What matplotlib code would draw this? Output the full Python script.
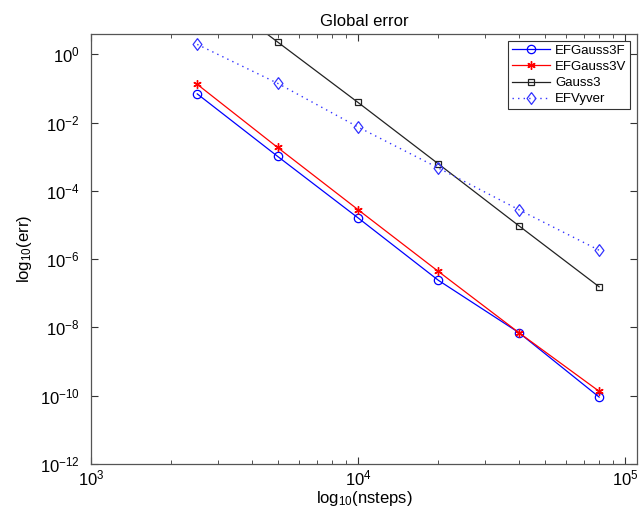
import math
import matplotlib
matplotlib.use("Agg")
import matplotlib.pyplot as plt
from matplotlib.ticker import FixedLocator, FuncFormatter, LogLocator, NullLocator

plt.rcParams['font.family'] = ['Liberation Sans', 'DejaVu Sans']
plt.rcParams['mathtext.default'] = 'regular'

nsteps = [2500, 5000, 10000, 20000, 40000, 80000]

# log10 of the errors
ef_gauss3f = [-1.16, -2.99, -4.79, -6.62, -8.15, -10.04]
ef_gauss3v = [-0.88, -2.73, -4.55, -6.36, -8.15, -9.87]
gauss3 = [2.13, 0.36, -1.41, -3.21, -5.02, -6.81]
ef_vyver = [0.29, -0.85, -2.13, -3.33, -4.55, -5.74]

yticks = [-12, -10, -8, -6, -4, -2, 0]
xticks = [1e3, 1e4, 1e5]

# matlab-like diamond, a bit narrower than tall
diamond = [(0, 1), (0.75, 0), (0, -1), (-0.75, 0), (0, 1)]


def p10(v):
    return [10.0 ** e for e in v]


fig = plt.figure(figsize=(6.39, 5.2), dpi=100)
ax = fig.add_axes([0.1424, 0.1077, 0.8545, 0.8269])

ax.plot(nsteps, p10(ef_gauss3f), '-o', color='#0000ff', lw=0.9, ms=6,
        mfc='none', mew=0.9, label='EFGauss3F')
ax.plot(nsteps, p10(ef_gauss3v), '-', marker=(6, 2, 0), color='#ff0000',
        lw=0.9, ms=6, mew=1.0, label='EFGauss3V')
ax.plot(nsteps, p10(gauss3), '-s', color='#222222', lw=0.9, ms=4,
        mfc='none', mew=0.9, label='Gauss3')
ax.plot(nsteps, p10(ef_vyver), linestyle=(0, (1, 3)), marker=diamond,
        color='#3333ff', lw=1.0, ms=8.5, mfc='none', mew=0.9, label='EFVyver')

ax.set_xscale('log')
ax.set_yscale('log')
ax.set_xlim(1e3, 10 ** 5.045)
ax.set_ylim(1e-12, 10 ** 0.594)

ax.xaxis.set_major_locator(FixedLocator(xticks))
ax.xaxis.set_minor_locator(LogLocator(base=10, subs=range(2, 10), numticks=20))
ax.yaxis.set_major_locator(FixedLocator(p10(yticks)))
ax.yaxis.set_minor_locator(NullLocator())
fmt = FuncFormatter(lambda v, pos: r'$10^{%d}$' % round(math.log10(v)))
ax.xaxis.set_major_formatter(fmt)
ax.yaxis.set_major_formatter(fmt)
ax.xaxis.set_minor_formatter(FuncFormatter(lambda v, pos: ''))

ax.tick_params(which='both', direction='in', top=True, right=True,
               colors='#333333', labelcolor='black', labelsize=12)
ax.tick_params(which='major', length=5, width=0.8)
ax.tick_params(which='minor', length=3, width=0.6)
ax.tick_params(axis='y', pad=8)
ax.tick_params(axis='x', pad=3)
for s in ax.spines.values():
    s.set_color('#555555')
    s.set_linewidth(0.9)

ax.set_title('Global error', fontsize=12, pad=6)
ax.set_xlabel(r'$log_{10}$(nsteps)', fontsize=12, labelpad=1)
ax.set_ylabel(r'$log_{10}$(err)', fontsize=12, labelpad=4)

leg = ax.legend(loc='upper right', fontsize=9.5, fancybox=False,
                edgecolor='#333333', framealpha=1, borderpad=0.3,
                labelspacing=0.3, handlelength=2.9, handletextpad=0.4,
                borderaxespad=0.5)
leg.get_frame().set_linewidth(0.8)

fig.savefig('out.png', dpi=100)
